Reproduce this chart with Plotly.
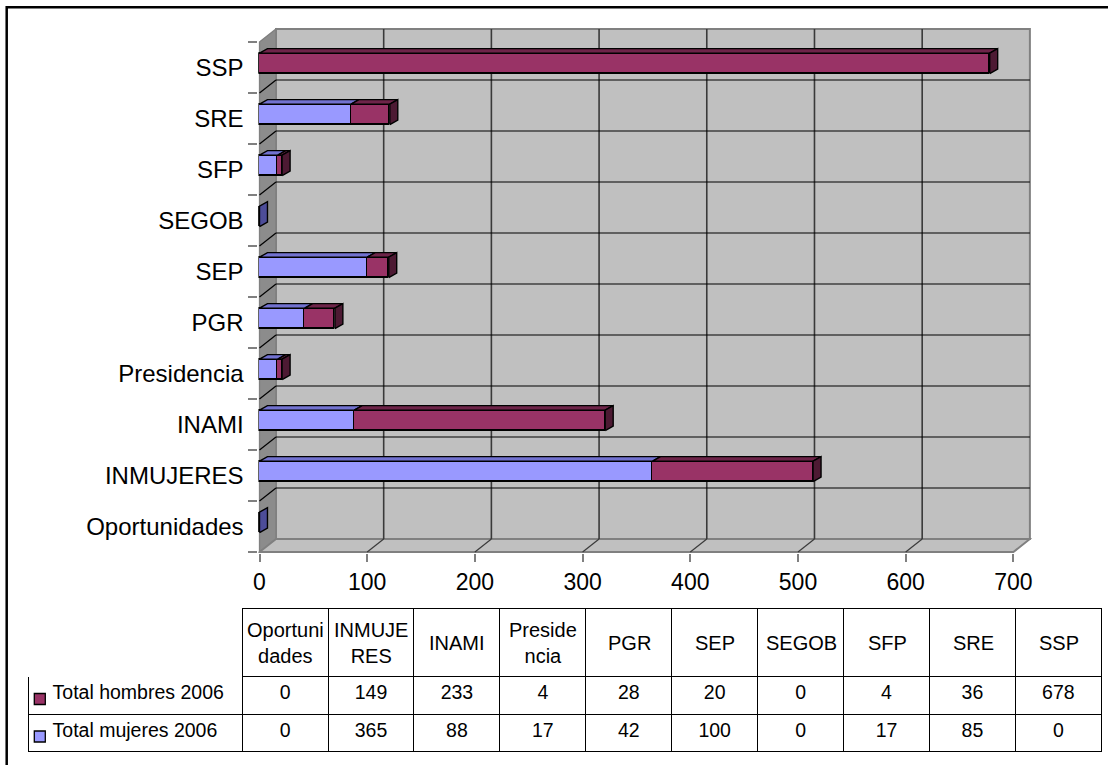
import plotly.graph_objects as go

# ---------------- data ----------------
categories = ["Oportunidades", "INMUJERES", "INAMI", "Presidencia", "PGR",
              "SEP", "SEGOB", "SFP", "SRE", "SSP"]
header_labels = ["Oportuni<br>dades", "INMUJE<br>RES", "INAMI", "Preside<br>ncia", "PGR",
                 "SEP", "SEGOB", "SFP", "SRE", "SSP"]
mujeres = [0, 365, 88, 17, 42, 100, 0, 17, 85, 0]
hombres = [0, 149, 233, 4, 28, 20, 0, 4, 36, 678]
series_names = ["Total hombres 2006", "Total mujeres 2006"]
x_ticks = [0, 100, 200, 300, 400, 500, 600, 700]

# ---------------- style ----------------
W, H = 1108, 765
FONT = "Arial, Liberation Sans, sans-serif"
C_M, C_M_TOP, C_M_SIDE = "#9999FF", "#7272D0", "#4D4D99"
C_H, C_H_TOP, C_H_SIDE = "#993366", "#6E2449", "#4D1A33"
WALL = "#C0C0C0"
WALL_DARK = "#8C8C8C"
EDGE = "#808080"

WALL_DX, WALL_DY = 15.3, 0.255      # depth of the chart box (data units)
BAR_DX, BAR_DY = 7.4, 0.09          # depth of each bar (data units)
BAR_W, BAR_SHIFT = 0.4, 0.08

pos = list(range(len(categories)))
x_max = x_ticks[-1]
y_lo, y_hi = -0.5, len(categories) - 0.5

# pixel mapping -> domains
px_x0, ppu_x = 259.5, 1.077
px_y0, ppu_y = 552.0, 51.0
xr = [-1, x_max + WALL_DX + 1.7]
yr = [y_lo - 0.02, y_hi + WALL_DY + 0.025]
xd = [(px_x0 + (xr[0]) * ppu_x) / W, (px_x0 + xr[1] * ppu_x) / W]
yd = [1 - (px_y0 - (yr[0] - y_lo) * ppu_y) / H, 1 - (px_y0 - (yr[1] - y_lo) * ppu_y) / H]

fig = go.Figure()

# ---------------- bars (front faces) ----------------
common = dict(orientation="h", width=BAR_W, offset=BAR_SHIFT - BAR_W / 2,
              hoverinfo="skip", showlegend=False)
fig.add_trace(go.Bar(y=pos, x=mujeres, name=series_names[1],
                     marker=dict(color=C_M, line=dict(color="black", width=1.8)), **common))
fig.add_trace(go.Bar(y=pos, x=hombres, name=series_names[0],
                     marker=dict(color=C_H, line=dict(color="black", width=1.8)), **common))

# ---------------- 3D faces of the bars ----------------
faces = {C_M_TOP: ([], []), C_H_TOP: ([], []), C_M_SIDE: ([], []), C_H_SIDE: ([], [])}


def poly(key, xs, ys):
    fx, fy = faces[key]
    fx.extend(xs + [xs[0], None])
    fy.extend(ys + [ys[0], None])


for i, (m, h) in enumerate(zip(mujeres, hombres)):
    yb = pos[i] + BAR_SHIFT - BAR_W / 2
    yt = yb + BAR_W
    for a, v, key in ((0, m, C_M_TOP), (m, h, C_H_TOP)):
        if v > 0:
            poly(key, [a, a + v, a + v + BAR_DX, a + BAR_DX],
                 [yt, yt, yt + BAR_DY, yt + BAR_DY])
    end = m + h
    key = C_H_SIDE if h > 0 else C_M_SIDE
    poly(key, [end, end, end + BAR_DX, end + BAR_DX],
         [yb, yt, yt + BAR_DY, yb + BAR_DY])

for col, (fx, fy) in faces.items():
    if fx:
        fig.add_trace(go.Scatter(x=fx, y=fy, mode="lines", fill="toself", fillcolor=col,
                                 line=dict(color="black", width=1.4), hoverinfo="skip",
                                 showlegend=False))

# ---------------- chart box (walls, floor, gridlines) ----------------
shapes = []
shapes.append(dict(type="rect", xref="x", yref="y", layer="below",
                   x0=WALL_DX, x1=x_max + WALL_DX, y0=y_lo + WALL_DY, y1=y_hi + WALL_DY,
                   fillcolor=WALL, line=dict(color=EDGE, width=2)))
shapes.append(dict(type="path", xref="x", yref="y", layer="below",
                   path=f"M0,{y_lo} L0,{y_hi} L{WALL_DX},{y_hi + WALL_DY} L{WALL_DX},{y_lo + WALL_DY} Z",
                   fillcolor=WALL_DARK, line=dict(color=EDGE, width=1.5)))
shapes.append(dict(type="path", xref="x", yref="y", layer="below",
                   path=f"M0,{y_lo} L{x_max},{y_lo} L{x_max + WALL_DX},{y_lo + WALL_DY} L{WALL_DX},{y_lo + WALL_DY} Z",
                   fillcolor=WALL, line=dict(color=EDGE, width=2)))
for v in x_ticks[1:-1]:
    shapes.append(dict(type="line", xref="x", yref="y", layer="below",
                       x0=v + WALL_DX, x1=v + WALL_DX, y0=y_lo + WALL_DY, y1=y_hi + WALL_DY,
                       line=dict(color="#3A3A3A", width=1.6)))
    shapes.append(dict(type="line", xref="x", yref="y", layer="below",
                       x0=v, x1=v + WALL_DX, y0=y_lo, y1=y_lo + WALL_DY,
                       line=dict(color="#3A3A3A", width=1.2)))
for k in range(1, len(categories)):
    b = y_lo + k
    shapes.append(dict(type="line", xref="x", yref="y", layer="below",
                       x0=WALL_DX, x1=x_max + WALL_DX, y0=b + WALL_DY, y1=b + WALL_DY,
                       line=dict(color="black", width=1.2)))
    shapes.append(dict(type="line", xref="x", yref="y", layer="below",
                       x0=0, x1=WALL_DX, y0=b, y1=b + WALL_DY,
                       line=dict(color="black", width=1.2)))

# outer frame
shapes.append(dict(type="rect", xref="paper", yref="paper",
                   x0=6.7 / W, x1=1.02, y0=-0.02, y1=1 - 7.3 / H,
                   line=dict(color="black", width=2.5), fillcolor="rgba(0,0,0,0)"))

# legend keys inside the table
for (ytop, col) in ((693.5, C_H), (731.0, C_M)):
    shapes.append(dict(type="rect", xref="paper", yref="paper",
                       x0=34.3 / W, x1=45.3 / W, y0=1 - (ytop + 11) / H, y1=1 - ytop / H,
                       fillcolor=col, line=dict(color="black", width=1.3)))

# ---------------- data table ----------------
tbl_left, tbl_right = 28.3, 1102.0
tbl_top, hdr_h, row_h = 608.3, 68.4, 37.5
col_w = [214] + [86] * len(categories)
pad = "\u00a0" * 3
row_labels = [pad + s for s in series_names]
cell_cols = [row_labels] + [[str(h), str(m)] for h, m in zip(hombres, mujeres)]
fig.add_trace(go.Table(
    domain=dict(x=[tbl_left / W, tbl_right / W], y=[1 - (tbl_top + hdr_h + 2 * row_h + 1) / H, 1 - tbl_top / H]),
    columnwidth=col_w,
    header=dict(values=[""] * (len(categories) + 1), height=hdr_h,
                fill=dict(color="white"),
                line=dict(color=["rgba(0,0,0,0)"] + ["black"] * len(categories), width=1),
                align="center", font=dict(family=FONT, size=20, color="black")),
    cells=dict(values=cell_cols, height=row_h,
               fill=dict(color="white"),
               line=dict(color="black", width=1),
               align=["left"] + ["center"] * len(categories),
               font=dict(family=FONT, size=19.5, color="black")),
))

# header labels, vertically centred in the header row
annotations = []
scale = (tbl_right - tbl_left) / sum(col_w)
xc = tbl_left + col_w[0] * scale
for j, lab in enumerate(header_labels):
    cx = xc + (j + 0.5) * col_w[j + 1] * scale
    annotations.append(dict(xref="paper", yref="paper", x=cx / W, y=1 - (tbl_top + hdr_h / 2) / H,
                            text=lab, showarrow=False, xanchor="center", yanchor="middle",
                            align="center", font=dict(family=FONT, size=20, color="black")))

fig.update_layout(
    width=W, height=H,
    margin=dict(l=0, r=0, t=0, b=0),
    paper_bgcolor="white", plot_bgcolor="rgba(0,0,0,0)",
    barmode="stack", bargap=0,
    showlegend=False,
    shapes=shapes,
    annotations=annotations,
    font=dict(family=FONT, color="black"),
    xaxis=dict(domain=xd, range=xr, tickmode="array", tickvals=x_ticks,
               ticks="outside", ticklen=8, tickwidth=1.5, tickcolor=EDGE,
               showgrid=False, zeroline=False, showline=False,
               tickfont=dict(family=FONT, size=23, color="black"), automargin=False),
    yaxis=dict(domain=yd, range=yr, tickmode="array", tickvals=pos, ticktext=categories,
               ticks="outside", ticklen=9, tickcolor="rgba(0,0,0,0)",
               minor=dict(tickmode="array", tickvals=[y_lo + k for k in range(len(categories) + 1)],
                          ticks="outside", ticklen=9, tickwidth=1.5, tickcolor=EDGE, showgrid=False),
               showgrid=False, zeroline=False, showline=False,
               tickfont=dict(family=FONT, size=24, color="black"), automargin=False),
)

fig.write_html("out.html", config={"displayModeBar": False},
               post_script="document.body.style.margin='0';document.body.style.overflow='hidden';")
